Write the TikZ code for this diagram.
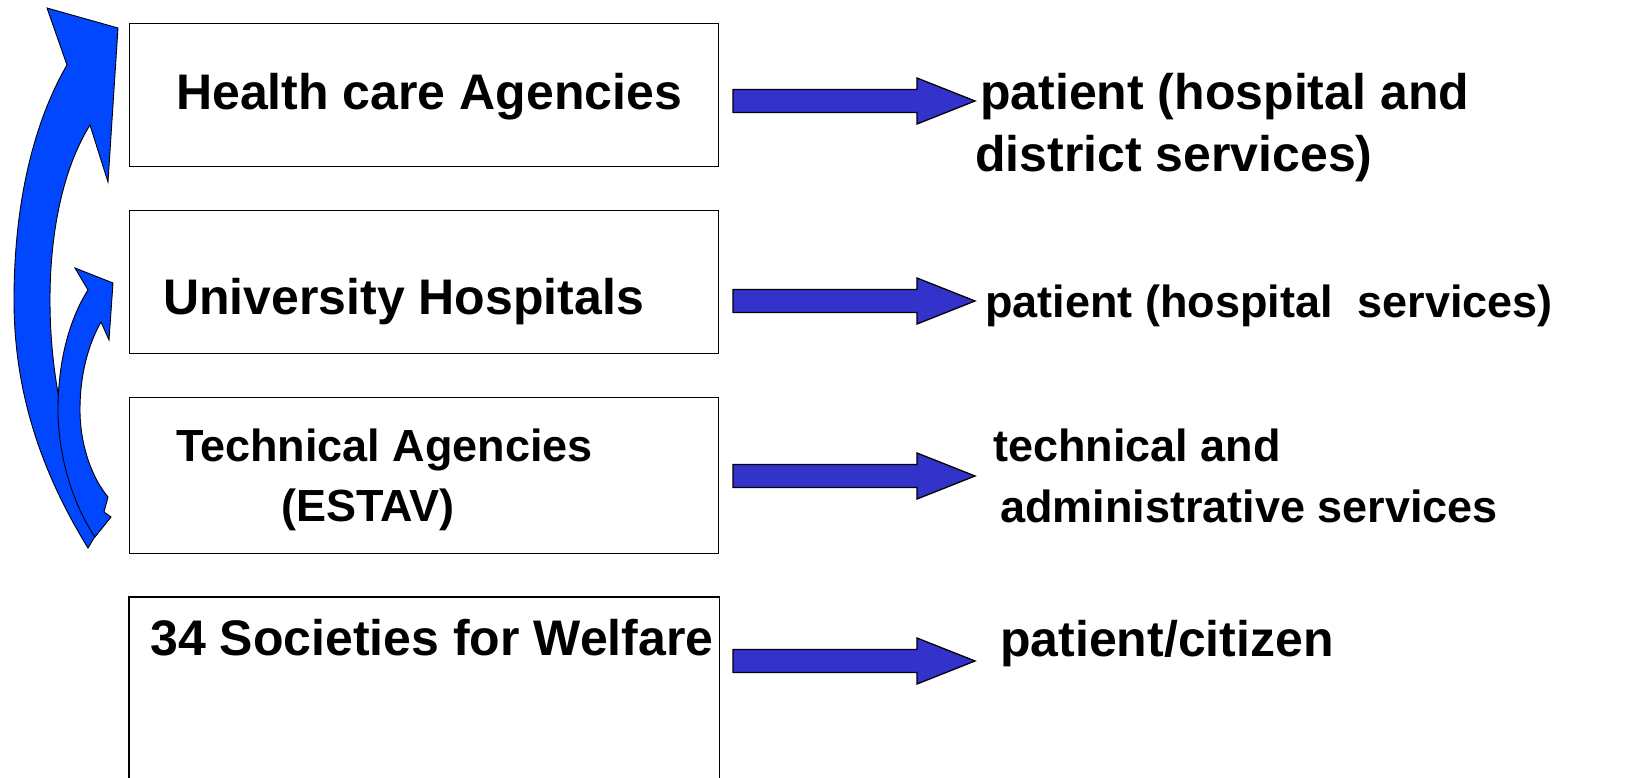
\documentclass[tikz,border=0pt]{standalone}
\usepackage{fontspec}
\setmainfont{Liberation Sans}
\definecolor{arrowviolet}{HTML}{3333CC}
\definecolor{curveblue}{HTML}{0047FF}
\begin{document}
\begin{tikzpicture}[x=1pt,y=-1pt,
  box/.style={draw=black,line width=1.4pt,fill=white,anchor=north west,inner sep=0pt},
  lbl/.style={anchor=base west,inner sep=0pt,font=\bfseries\fontsize{50}{60}\selectfont},
  lbls/.style={anchor=base west,inner sep=0pt,font=\bfseries\fontsize{45}{54}\selectfont},
  blockarrow/.style={draw=black,line width=1.3pt,fill=arrowviolet,line join=miter},
  curvearrow/.style={draw=black,line width=0.9pt,fill=curveblue,line join=miter}]
\path[use as bounding box] (0,0) rectangle (1650,778);
% boxes
\node[box,minimum width=589pt,minimum height=143pt] (b1) at (129,23) {};
\node[box,minimum width=589pt,minimum height=143pt] (b2) at (129,210) {};
\node[box,minimum width=589pt,minimum height=156pt] (b3) at (129,397) {};
\node[box,draw=none,minimum width=589pt,minimum height=181pt] (b4) at (129,597) {};
\draw[line width=1.4pt] (b4.south west) |- (b4.north east) -- (b4.south east);
% box texts
\node[lbl] (t1) at (176,110) {Health care Agencies};
\node[lbl] (t2) at (163,315) {University Hospitals};
\node[lbls] (t3a) at (176,461) {Technical Agencies};
\node[lbls] (t3b) at (281,521) {(ESTAV)};
\node[lbl] (t4) at (150,655) {34 Societies for Welfare};
% right texts
\node[lbl] (r1a) at (980,110) {patient (hospital and};
\node[lbl] (r1b) at (975,172) {district services)};
\node[lbls] (r2) at (985,317) {patient (hospital\ \ services)};
\node[lbls] (r3a) at (993,461) {technical and};
\node[lbls] (r3b) at (1000,522) {administrative services};
\node[lbl] (r4) at (1000,656) {patient/citizen};
% straight block arrows
\foreach \n/\yy in {1/101,2/301,3/476,4/661}{
  \coordinate (s\n) at (733,\yy);
  \draw[blockarrow] (s\n) ++(0,-11.5) -- ++(184,0) -- ++(0,-11.5) -- ++(58,23) -- ++(-58,23) -- ++(0,-11.5) -- ++(-184,0) -- cycle;
}
% big curved arrow
\draw[curvearrow] (88,548) .. controls (40,470) and (14,390) .. (14,300)
  .. controls (14,200) and (35,120) .. (67,65)
  -- (47,8) -- (118,28) -- (108,182) -- (90,125)
  .. controls (62,170) and (50,235) .. (50,300)
  .. controls (50,390) and (72,470) .. (103,523) -- cycle;
% small curved arrow
\draw[curvearrow] (95,537) .. controls (70,500) and (58,450) .. (58,410)
  .. controls (58,360) and (70,318) .. (88,290)
  -- (75,268) -- (113,283) -- (109,340) -- (101,322)
  .. controls (88,345) and (80,375) .. (80,410)
  .. controls (80,445) and (92,478) .. (108,497)
  -- (104,512) -- (111,517) -- cycle;
\end{tikzpicture}
\end{document}
